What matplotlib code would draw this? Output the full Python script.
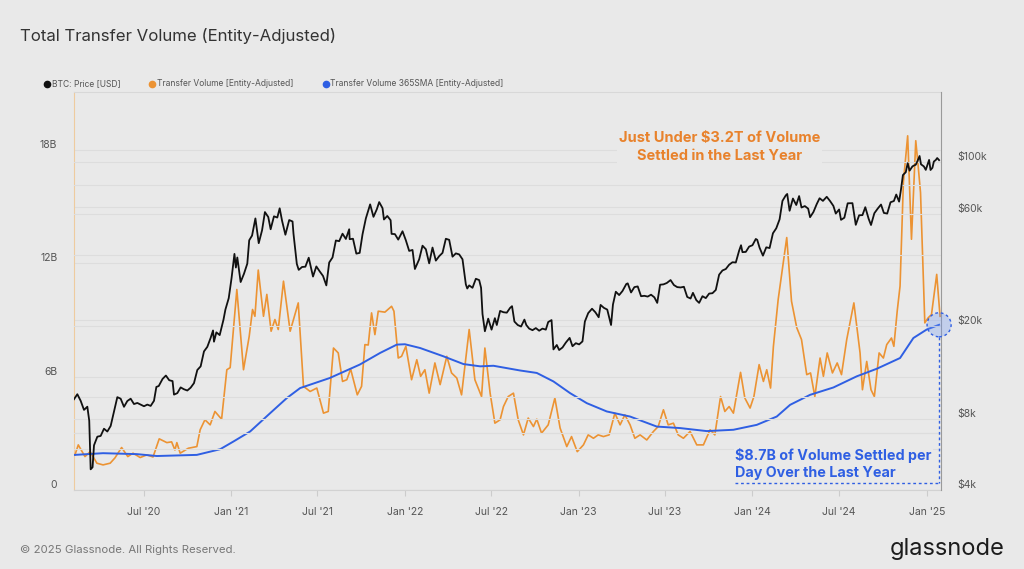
import matplotlib
matplotlib.use("Agg")
import matplotlib.pyplot as plt
import matplotlib.dates as mdates
from matplotlib.ticker import FixedLocator, NullFormatter
from matplotlib.lines import Line2D
import pandas as pd

plt.rcParams['font.family'] = ['Inter', 'DejaVu Sans']

# ---------- data ----------
# Transfer Volume [Entity-Adjusted], billions USD
vol_dates = [
    "2020-02-08", "2020-02-15", "2020-02-29", "2020-03-11", "2020-03-25", "2020-04-07", "2020-04-22",
    "2020-05-02", "2020-05-16", "2020-05-29", "2020-06-09", "2020-06-24", "2020-07-08", "2020-07-21",
    "2020-08-03", "2020-08-19", "2020-08-29", "2020-09-05", "2020-09-09", "2020-09-16", "2020-10-03",
    "2020-10-21", "2020-10-28", "2020-11-07", "2020-11-18", "2020-11-28", "2020-12-12", "2020-12-23",
    "2020-12-30", "2021-01-13", "2021-01-27", "2021-02-08", "2021-02-15", "2021-02-20", "2021-02-27",
    "2021-03-10", "2021-03-17", "2021-03-26", "2021-04-03", "2021-04-10", "2021-04-21", "2021-05-05",
    "2021-05-22", "2021-06-02", "2021-06-16", "2021-06-30", "2021-07-14", "2021-07-24", "2021-08-04",
    "2021-08-14", "2021-08-23", "2021-09-01", "2021-09-09", "2021-09-23", "2021-10-02", "2021-10-09",
    "2021-10-16", "2021-10-23", "2021-10-30", "2021-11-06", "2021-11-20", "2021-12-04", "2021-12-09",
    "2021-12-18", "2021-12-25", "2022-01-03", "2022-01-15", "2022-01-26", "2022-02-03", "2022-02-12",
    "2022-02-21", "2022-03-05", "2022-03-16", "2022-03-30", "2022-04-09", "2022-04-20", "2022-04-30",
    "2022-05-16", "2022-05-28", "2022-06-11", "2022-06-18", "2022-06-29", "2022-07-09", "2022-07-20",
    "2022-07-27", "2022-08-06", "2022-08-17", "2022-08-27", "2022-09-07", "2022-09-17", "2022-09-28",
    "2022-10-05", "2022-10-15", "2022-10-29", "2022-11-12", "2022-11-23", "2022-12-07", "2022-12-17",
    "2022-12-29", "2023-01-11", "2023-01-21", "2023-02-01", "2023-02-11", "2023-02-22", "2023-03-06",
    "2023-03-18", "2023-03-29", "2023-04-08", "2023-04-19", "2023-04-29", "2023-05-10", "2023-05-24",
    "2023-06-07", "2023-06-17", "2023-06-28", "2023-07-08", "2023-07-19", "2023-07-29", "2023-08-09",
    "2023-08-23", "2023-09-06", "2023-09-20", "2023-10-04", "2023-10-14", "2023-10-26", "2023-11-04",
    "2023-11-13", "2023-11-22", "2023-12-07", "2023-12-16", "2023-12-27", "2024-01-04", "2024-01-15",
    "2024-01-24", "2024-01-31", "2024-02-08", "2024-02-14", "2024-02-24", "2024-03-13", "2024-03-23",
    "2024-04-03", "2024-04-13", "2024-04-24", "2024-05-02", "2024-05-11", "2024-05-22", "2024-05-29",
    "2024-06-06", "2024-06-17", "2024-06-27", "2024-07-06", "2024-07-17", "2024-08-01", "2024-08-14",
    "2024-08-19", "2024-08-28", "2024-09-06", "2024-09-13", "2024-09-23", "2024-10-02", "2024-10-09",
    "2024-10-19", "2024-10-24", "2024-10-31", "2024-11-06", "2024-11-13", "2024-11-22", "2024-11-30",
    "2024-12-09", "2024-12-14", "2024-12-19", "2024-12-28", "2025-01-04", "2025-01-11", "2025-01-22",
    "2025-01-29",
]
vol_values = [
    1.86, 2.39, 1.77, 2.03, 1.42, 1.33, 1.42,
    1.70, 2.25, 1.77, 1.95, 1.72, 1.86, 1.75,
    2.71, 2.51, 2.55, 2.12, 2.51, 1.95, 2.21,
    2.30, 3.19, 3.72, 3.45, 4.16, 3.75, 6.37,
    6.48, 10.62, 6.37, 8.14, 9.56, 9.20, 11.65,
    9.20, 10.36, 8.41, 9.03, 8.50, 11.06, 8.41,
    9.91, 5.49, 5.22, 5.40, 4.07, 4.16, 7.52,
    7.26, 5.75, 5.84, 6.41, 5.04, 5.49, 7.70,
    7.68, 9.38, 8.23, 9.47, 9.42, 9.73, 9.47,
    6.99, 7.08, 7.61, 5.84, 6.90, 6.02, 6.37,
    5.13, 6.73, 5.58, 7.08, 6.20, 5.93, 5.04,
    8.50, 5.84, 4.95, 7.52, 5.13, 3.54, 3.72,
    4.42, 4.95, 5.13, 3.72, 2.92, 3.81, 3.36,
    3.75, 3.01, 3.45, 4.87, 3.28, 2.30, 2.83,
    2.03, 2.39, 2.92, 2.74, 2.92, 2.83, 2.92,
    4.07, 3.45, 3.98, 3.45, 2.74, 2.92, 2.65,
    3.10, 3.36, 4.25, 3.45, 3.54, 2.92, 2.74,
    3.10, 2.39, 2.39, 3.19, 2.92, 4.95, 4.16,
    4.42, 4.07, 6.23, 4.87, 4.34, 4.95, 6.64,
    5.75, 6.37, 5.40, 7.61, 10.09, 13.37, 10.00,
    8.60, 7.97, 6.11, 6.20, 4.95, 6.99, 6.02,
    7.26, 6.20, 6.73, 6.11, 7.97, 9.91, 7.26,
    5.31, 6.81, 5.31, 4.95, 7.26, 6.99, 7.70,
    8.05, 7.61, 9.47, 10.80, 16.30, 18.76, 13.28,
    18.50, 17.17, 15.75, 8.85, 9.12, 9.29, 11.42,
    9.20,
]

# Transfer Volume 365SMA [Entity-Adjusted], billions USD
sma_dates = [
    "2020-02-08", "2020-04-07", "2020-06-17", "2020-07-29", "2020-10-21", "2020-12-09", "2021-01-06",
    "2021-02-10", "2021-03-24", "2021-04-28", "2021-05-26", "2021-07-27", "2021-09-28", "2021-11-10",
    "2021-12-15", "2022-01-01", "2022-02-02", "2022-03-23", "2022-05-04", "2022-06-08", "2022-07-06",
    "2022-08-31", "2022-10-05", "2022-11-09", "2022-12-14", "2023-01-18", "2023-03-01", "2023-04-19",
    "2023-06-14", "2023-08-02", "2023-09-27", "2023-11-22", "2024-01-10", "2024-02-21", "2024-03-20",
    "2024-05-01", "2024-06-19", "2024-08-07", "2024-09-18", "2024-11-06", "2024-12-04", "2025-01-01",
    "2025-01-27",
]
sma_values = [
    1.86, 1.95, 1.90, 1.80, 1.86, 2.16, 2.57,
    3.10, 4.07, 4.87, 5.40, 5.93, 6.64, 7.26,
    7.70, 7.72, 7.52, 7.08, 6.67, 6.55, 6.58,
    6.33, 6.20, 5.75, 5.13, 4.60, 4.16, 3.89,
    3.36, 3.28, 3.12, 3.19, 3.45, 3.89, 4.51,
    5.04, 5.43, 6.02, 6.42, 6.99, 8.05, 8.50,
    8.75,
]

# BTC: Price [USD]
btc_dates = [
    "2020-02-06", "2020-02-13", "2020-02-20", "2020-02-27", "2020-03-05", "2020-03-09", "2020-03-12",
    "2020-03-16", "2020-03-19", "2020-03-26", "2020-04-02", "2020-04-09", "2020-04-16", "2020-04-23",
    "2020-04-30", "2020-05-07", "2020-05-14", "2020-05-21", "2020-05-28", "2020-06-04", "2020-06-11",
    "2020-06-18", "2020-06-25", "2020-07-02", "2020-07-09", "2020-07-16", "2020-07-23", "2020-07-28",
    "2020-08-02", "2020-08-10", "2020-08-17", "2020-08-24", "2020-08-31", "2020-09-03", "2020-09-10",
    "2020-09-17", "2020-09-24", "2020-10-01", "2020-10-08", "2020-10-15", "2020-10-22", "2020-10-29",
    "2020-11-05", "2020-11-12", "2020-11-19", "2020-11-24", "2020-11-26", "2020-12-01", "2020-12-08",
    "2020-12-16", "2020-12-20", "2020-12-27", "2021-01-02", "2021-01-08", "2021-01-11", "2021-01-14",
    "2021-01-21", "2021-01-28", "2021-02-04", "2021-02-08", "2021-02-14", "2021-02-21", "2021-02-28",
    "2021-03-07", "2021-03-13", "2021-03-20", "2021-03-25", "2021-04-01", "2021-04-08", "2021-04-13",
    "2021-04-18", "2021-04-25", "2021-05-03", "2021-05-10", "2021-05-12", "2021-05-19", "2021-05-23",
    "2021-05-30", "2021-06-06", "2021-06-13", "2021-06-22", "2021-06-29", "2021-07-06", "2021-07-13",
    "2021-07-20", "2021-07-26", "2021-08-02", "2021-08-09", "2021-08-16", "2021-08-23", "2021-08-30",
    "2021-09-06", "2021-09-07", "2021-09-14", "2021-09-21", "2021-09-28", "2021-10-04", "2021-10-11",
    "2021-10-20", "2021-10-27", "2021-11-03", "2021-11-08", "2021-11-15", "2021-11-18", "2021-11-25",
    "2021-12-02", "2021-12-04", "2021-12-11", "2021-12-18", "2021-12-27", "2022-01-03", "2022-01-10",
    "2022-01-17", "2022-01-22", "2022-01-31", "2022-02-07", "2022-02-14", "2022-02-21", "2022-02-28",
    "2022-03-07", "2022-03-14", "2022-03-21", "2022-03-28", "2022-04-04", "2022-04-11", "2022-04-18",
    "2022-04-25", "2022-05-02", "2022-05-09", "2022-05-12", "2022-05-16", "2022-05-23", "2022-05-30",
    "2022-06-06", "2022-06-10", "2022-06-13", "2022-06-18", "2022-06-25", "2022-07-02", "2022-07-09",
    "2022-07-13", "2022-07-20", "2022-07-27", "2022-08-03", "2022-08-10", "2022-08-14", "2022-08-19",
    "2022-08-26", "2022-09-02", "2022-09-09", "2022-09-13", "2022-09-19", "2022-09-26", "2022-10-03",
    "2022-10-10", "2022-10-17", "2022-10-24", "2022-10-29", "2022-11-05", "2022-11-09", "2022-11-16",
    "2022-11-21", "2022-11-28", "2022-12-05", "2022-12-13", "2022-12-19", "2022-12-26", "2023-01-02",
    "2023-01-09", "2023-01-14", "2023-01-21", "2023-01-29", "2023-02-05", "2023-02-12", "2023-02-16",
    "2023-02-23", "2023-03-02", "2023-03-10", "2023-03-14", "2023-03-20", "2023-03-27", "2023-04-03",
    "2023-04-11", "2023-04-14", "2023-04-21", "2023-04-28", "2023-05-05", "2023-05-12", "2023-05-19",
    "2023-05-26", "2023-06-02", "2023-06-09", "2023-06-15", "2023-06-21", "2023-06-28", "2023-07-05",
    "2023-07-13", "2023-07-20", "2023-07-27", "2023-08-03", "2023-08-10", "2023-08-17", "2023-08-24",
    "2023-08-29", "2023-09-05", "2023-09-11", "2023-09-18", "2023-09-25", "2023-10-02", "2023-10-09",
    "2023-10-16", "2023-10-23", "2023-10-30", "2023-11-06", "2023-11-13", "2023-11-20", "2023-11-27",
    "2023-12-04", "2023-12-08", "2023-12-11", "2023-12-18", "2023-12-25", "2024-01-01", "2024-01-08",
    "2024-01-11", "2024-01-16", "2024-01-23", "2024-01-30", "2024-02-06", "2024-02-13", "2024-02-20",
    "2024-02-27", "2024-03-04", "2024-03-11", "2024-03-14", "2024-03-19", "2024-03-26", "2024-04-02",
    "2024-04-08", "2024-04-13", "2024-04-20", "2024-04-27", "2024-05-01", "2024-05-08", "2024-05-15",
    "2024-05-21", "2024-05-28", "2024-06-05", "2024-06-12", "2024-06-19", "2024-06-24", "2024-07-01",
    "2024-07-05", "2024-07-12", "2024-07-19", "2024-07-29", "2024-08-05", "2024-08-12", "2024-08-19",
    "2024-08-25", "2024-09-01", "2024-09-06", "2024-09-13", "2024-09-20", "2024-09-27", "2024-10-03",
    "2024-10-10", "2024-10-17", "2024-10-24", "2024-10-29", "2024-11-04", "2024-11-08", "2024-11-12",
    "2024-11-18", "2024-11-22", "2024-11-26", "2024-12-02", "2024-12-05", "2024-12-09", "2024-12-13",
    "2024-12-17", "2024-12-20", "2024-12-26", "2024-12-30", "2025-01-06", "2025-01-09", "2025-01-13",
    "2025-01-16", "2025-01-20", "2025-01-23", "2025-01-27",
]
btc_price = [
    9750, 10240, 9600, 8780, 9060, 7900, 4900,
    5000, 6200, 6750, 6800, 7300, 7100, 7500,
    8650, 9950, 9800, 9050, 9580, 9800, 9300,
    9400, 9250, 9100, 9250, 9130, 9600, 11000,
    11100, 11900, 12300, 11750, 11650, 10200, 10350,
    10950, 10750, 10620, 10920, 11420, 12990, 13460,
    15590, 16300, 17800, 19150, 17150, 18790, 18300,
    21300, 23500, 26300, 32100, 40600, 35500, 39200,
    30800, 33400, 36900, 46400, 48600, 57500, 45100,
    51200, 61200, 58300, 51700, 58700, 58000, 63500,
    56200, 49000, 56600, 55800, 49500, 36800, 34700,
    35700, 35800, 39100, 32500, 35900, 34200, 32700,
    29800, 37300, 39200, 46300, 46000, 49500, 47000,
    51700, 46900, 47100, 40700, 41000, 49200, 57500,
    66000, 58400, 62900, 67500, 63600, 56900, 58900,
    56500, 49400, 49300, 46700, 50700, 46400, 41800,
    42200, 35000, 38500, 44000, 42500, 37000, 43200,
    38000, 39700, 41000, 47100, 46600, 39500, 40800,
    40400, 38500, 30100, 28900, 29800, 29100, 31800,
    31400, 29100, 22500, 19000, 21500, 19300, 21600,
    20200, 23200, 22900, 22800, 23900, 24300, 20900,
    20200, 19900, 21300, 20200, 19500, 19200, 19600,
    19100, 19500, 19300, 20800, 21200, 15900, 16600,
    15800, 16200, 17000, 17800, 16400, 16900, 16700,
    17200, 20900, 22700, 23700, 22900, 21800, 24600,
    23900, 23500, 20200, 24700, 28000, 27100, 28200,
    30200, 30400, 27800, 29300, 29500, 26800, 26900,
    26700, 27200, 26500, 25100, 30000, 30100, 30500,
    31400, 29900, 29300, 29200, 29400, 26600, 26200,
    27700, 25800, 25100, 26800, 26300, 27500, 27600,
    28500, 33100, 34500, 35000, 36500, 37400, 37300,
    41900, 44200, 41300, 41400, 43600, 44200, 47000,
    46600, 43100, 39900, 43300, 43000, 49700, 52200,
    57000, 68300, 72100, 73100, 62000, 69900, 65600,
    71600, 64000, 64900, 63300, 58200, 61200, 66200,
    70100, 68300, 71100, 68200, 65000, 60300, 62800,
    56700, 57900, 66700, 66800, 54000, 59300, 59400,
    64200, 57300, 53900, 60500, 63300, 65900, 60700,
    60300, 67400, 68200, 72700, 67800, 76500, 88000,
    90500, 98900, 91900, 95800, 96600, 97400, 101400,
    106100, 97800, 95800, 92600, 102100, 92500, 94500,
    100500, 102000, 104000, 101900,
]

left_ticks = [0, 6, 12, 18]
left_labels = ["0", "6B", "12B", "18B"]
right_ticks = [4000, 8000, 20000, 60000, 100000]
right_labels = ["$4k", "$8k", "$20k", "$60k", "$100k"]

# ---------- style ----------
BG = "#e9e9e9"
GRID = "#dddddd"
ORANGE = "#ec9333"
ORANGE_TXT = "#e8822c"
BLUE = "#2f5fe3"
BLACK = "#111111"
TICK = "#555555"

vol_x = pd.to_datetime(vol_dates)
sma_x = pd.to_datetime(sma_dates)
btc_x = pd.to_datetime(btc_dates)

fig = plt.figure(figsize=(10.24, 5.69), dpi=100, facecolor=BG)
ax = fig.add_axes([74 / 1024, 1 - 490 / 569, 867 / 1024, 398 / 569])
ax.set_facecolor(BG)
ax2 = ax.twinx()

ax.plot(vol_x, vol_values, color=ORANGE, lw=1.2, zorder=3)
ax.plot(sma_x, sma_values, color=BLUE, lw=1.4, zorder=4)
ax2.plot(btc_x, btc_price, color=BLACK, lw=1.3, zorder=3)

# x axis
ax.set_xlim(pd.Timestamp("2020-02-06"), pd.Timestamp("2025-01-31"))
ax.xaxis.set_major_locator(mdates.MonthLocator(bymonth=[1, 7]))
ax.xaxis.set_major_formatter(mdates.DateFormatter("%b '%y"))
ax.tick_params(axis="x", length=4, color="#cccccc", labelsize=7.5, labelcolor=TICK, pad=8)

# left axis
ax.set_ylim(0, 21.08)
ax.set_yticks(left_ticks)
ax.set_yticklabels(left_labels)
ax.set_yticks([3, 9, 15], minor=True)
ax.tick_params(axis="y", which="both", length=0, labelsize=7.5, labelcolor=TICK, pad=12)
for t in ax.get_yticklabels():
    t.set_verticalalignment("bottom")
ax.grid(axis="y", which="both", color=GRID, lw=0.8, zorder=0)
ax.grid(axis="x", visible=False)

# right axis (log)
ax2.set_yscale("log")
ax2.set_ylim(4000, 4000 * 10 ** (398 / 234.6))
ax2.yaxis.set_major_locator(FixedLocator(right_ticks))
ax2.yaxis.set_minor_locator(FixedLocator([6000, 7000, 10000, 40000, 80000]))
ax2.yaxis.set_minor_formatter(NullFormatter())
ax2.set_yticklabels(right_labels)
ax2.tick_params(axis="y", which="both", length=0, labelsize=7.5, labelcolor=TICK, pad=12)
for t in ax2.get_yticklabels():
    t.set_verticalalignment("bottom")
ax2.grid(axis="y", which="both", color=GRID, lw=0.8, zorder=0)

ax.spines["right"].set_visible(False)
for s in ["left", "top", "bottom"]:
    ax2.spines[s].set_visible(False)
ax.spines["left"].set_color("#eecb9f")
ax.spines["top"].set_color("#d8d8d8")
ax.spines["bottom"].set_color("#d2d2d2")
ax2.spines["right"].set_color("#9a9a9a")

# annotations
end_x, end_y = sma_x[-1], sma_values[-1]
ax2.scatter([end_x], [4000 * 10 ** (end_y / 21.08 * 398 / 234.6)], s=300,
            facecolor=(0.42, 0.58, 0.95, 0.3), edgecolor=BLUE, linewidths=1.0,
            linestyle=(0, (2, 2)), zorder=6, clip_on=False)
ax2.plot([end_x, end_x], [4000 * 10 ** ((end_y - 0.65) / 21.08 * 398 / 234.6), 4270],
         color=BLUE, lw=1.0, ls=(0, (2, 2)), zorder=5)
ax2.plot([pd.Timestamp("2023-11-26"), end_x], [4270, 4270], color=BLUE, lw=1.0,
         ls=(0, (2, 2)), zorder=5)
txt_box = dict(boxstyle="square,pad=0.1", facecolor=BG, edgecolor="none")
ax2.text(pd.Timestamp("2023-11-26"), 5150, "$8.7B of Volume Settled per\nDay Over the Last Year",
         color=BLUE, fontsize=10.3, fontweight="bold", ha="left", va="center", linespacing=1.3,
         zorder=7, bbox=txt_box)
ax2.text(pd.Timestamp("2023-10-24"), 116000, "Just Under $3.2T of Volume\nSettled in the Last Year",
         color=ORANGE_TXT, fontsize=10.5, fontweight="bold", ha="center", va="center",
         linespacing=1.3, zorder=7, bbox=txt_box)

# legend
handles = [Line2D([], [], ls="", marker="o", markersize=4.5, color=c) for c in (BLACK, ORANGE, BLUE)]
labels = ["BTC: Price [USD]", "Transfer Volume [Entity-Adjusted]",
          "Transfer Volume 365SMA [Entity-Adjusted]"]
fig.legend(handles, labels, loc="center left", bbox_to_anchor=(36 / 1024, 1 - 84 / 569),
           ncol=3, frameon=False, fontsize=6.1, labelcolor=TICK, handlelength=0.8,
           handletextpad=0.15, columnspacing=3.4)

fig.text(20 / 1024, 1 - 36 / 569, "Total Transfer Volume (Entity-Adjusted)", fontsize=12.1,
         color="#333333", ha="left", va="center")
fig.text(20 / 1024, 1 - 550 / 569, "\u00a9 2025 Glassnode. All Rights Reserved.", fontsize=8.2,
         color="#777777", ha="left", va="center")
fig.text(1005 / 1024, 1 - 549 / 569, "glassnode", fontsize=17, color="#1c1c1c",
         ha="right", va="center")

fig.savefig("out.png", dpi=100, facecolor=BG)
